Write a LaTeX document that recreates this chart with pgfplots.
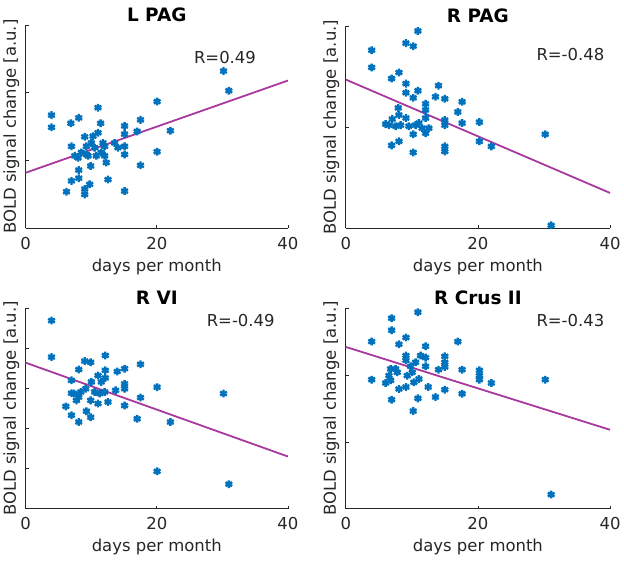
\documentclass[border=0pt]{standalone}
\usepackage{pgfplots}
\pgfplotsset{compat=1.18}
\usepackage{fontspec}
\setmainfont{DejaVu Sans}
\definecolor{mblue}{HTML}{0072BD}
\definecolor{mline}{HTML}{A8389F}
\definecolor{axgray}{HTML}{262626}
\pgfplotsset{
  panel/.style={
    scale only axis,
    anchor=south west,
    xmin=0, xmax=40,
    xtick={0,20,40},
    axis x line*=bottom, axis y line*=left,
    axis line style={axgray, line width=0.9pt, -},
    tick style={axgray, line width=0.6pt},
    tick align=inside,
    major tick length=3pt,
    yticklabels={},
    ticklabel style={font=\fontsize{16.5}{19}\selectfont, text=axgray},
    xticklabel style={yshift=-5pt},
    /pgf/number format/assume math mode=true,
    xlabel={days per month},
    ylabel={BOLD signal change [a.u.]},
    label style={font=\fontsize{16.5}{19}\selectfont, text=axgray},
    xlabel style={yshift=-3pt},
    ylabel style={yshift=-4pt},
    title style={font=\fontsize{18.5}{21}\selectfont\bfseries, yshift=-6pt},
    clip=false,
  },
  pts/.style={only marks, mark=asterisk, mark size=3.9pt, mblue, line width=2.4pt},
  fit/.style={no marks, mline, line width=1.8pt},
}
\newcommand{\rfont}{\fontsize{16.5}{19}\selectfont}
\begin{document}
\begin{tikzpicture}
\path (0pt,0pt) rectangle (624pt,-562pt);
% Panel 1: L PAG
\begin{axis}[panel, at={(24pt,-229pt)}, width=263pt, height=204pt, ymin=0, ymax=3, ytick={0,1,2,3}, title={L PAG}]
\addplot[pts] coordinates {
(3.95,1.67)(3.95,1.49)(6.23,0.54)(6.89,1.55)(6.99,1.21)(6.99,0.70)(8.10,1.63)(8.10,0.86)(8.10,0.74)
(9.01,1.35)(9.27,1.09)(9.01,0.58)(9.01,0.50)(9.77,0.65)(9.92,0.92)(10.03,1.26)(10.28,1.36)(11.04,1.78)
(11.04,1.41)(11.44,1.55)(10.78,1.07)(11.80,1.26)(12.05,1.07)(12.30,0.97)(12.56,0.72)(13.57,1.26)
(14.08,1.19)(15.09,1.51)(15.09,1.39)(15.09,1.21)(15.09,1.09)(15.09,0.55)(17.01,1.43)(17.52,1.60)
(17.52,0.93)(20.05,1.87)(20.05,1.13)(22.08,1.44)(30.18,2.32)(30.99,2.03)
(7.49,1.07)(8.51,1.12)(8.0,1.04)(9.52,1.07)(10.53,1.19)(11.54,1.12)(9.27,1.21)(12.05,1.21)
};
\addplot[fit] coordinates {(0,0.82)(40,2.18)};
\node[font=\rfont, text=axgray] at (rel axis cs:0.76,0.84) {R=0.49};
\end{axis}
% Panel 2: R PAG
\begin{axis}[panel, at={(345pt,-229pt)}, width=265pt, height=203pt, ymin=0, ymax=2, ytick={0,1,2}, title={R PAG}]
\addplot[pts] coordinates {
(3.92,1.76)(3.92,1.59)(6.94,1.48)(8.05,1.54)(9.11,1.83)(10.21,1.80)(10.92,1.95)(9.11,1.43)(9.11,1.34)
(10.21,1.29)(10.92,1.36)(7.95,1.19)(12.08,1.23)(12.08,1.17)(12.08,1.09)(14.04,1.41)(13.58,1.30)
(14.99,1.28)(16.96,1.15)(17.61,1.25)(14.99,1.07)(14.99,1.02)(17.61,1.04)(20.23,1.05)(20.23,0.86)
(22.04,0.81)(14.99,0.81)(14.99,0.76)(6.94,0.82)(8.05,0.86)(10.21,0.75)(10.21,0.93)(12.08,0.94)
(30.19,0.93)(31.09,0.03)
(6.04,1.03)(6.54,1.02)(7.04,1.08)(7.55,1.01)(8.30,1.02)(9.11,1.09)(9.56,1.01)(10.57,1.02)(11.07,1.04)
(11.57,0.99)(12.58,0.99)(8.05,1.12)
};
\addplot[fit] coordinates {(0,1.47)(40,0.35)};
\node[font=\rfont, text=axgray] at (rel axis cs:0.85,0.86) {R=-0.48};
\end{axis}
% Panel 3: R VI
\begin{axis}[panel, at={(24pt,-510pt)}, width=263pt, height=201pt, ymin=0, ymax=5, ytick={0,1,2,3,4,5}, title={R VI}]
\addplot[pts] coordinates {
(3.95,4.69)(3.95,3.78)(6.13,2.55)(6.99,3.20)(6.99,2.88)(6.99,2.33)(8.10,3.47)(8.10,2.16)(8.10,2.78)
(9.01,3.68)(9.27,2.43)(9.92,3.65)(9.92,2.70)(9.92,2.28)(10.03,3.16)(11.04,3.32)(11.04,2.62)(12.15,3.82)
(12.15,3.45)(12.15,3.26)(12.56,2.66)(13.97,3.42)(15.09,3.49)(15.09,3.11)(15.09,2.99)(15.09,2.57)
(17.01,2.24)(17.52,3.60)(17.52,2.77)(20.05,3.03)(20.05,0.93)(22.08,2.16)(30.18,2.87)(30.99,0.61)
(7.39,2.87)(8.41,2.91)(9.16,2.99)(10.53,2.91)(11.29,2.87)(11.54,3.16)(12.05,2.91)(13.72,2.95)(7.75,2.70)
};
\addplot[fit] coordinates {(0,3.64)(40,1.30)};
\node[font=\rfont, text=axgray] at (rel axis cs:0.82,0.94) {R=-0.49};
\end{axis}
% Panel 4: R Crus II
\begin{axis}[panel, at={(345pt,-510pt)}, width=265pt, height=201pt, ymin=0, ymax=3, ytick={0,1,2,3}, title={R Crus II}]
\addplot[pts] coordinates {
(3.92,2.50)(3.92,1.93)(6.04,1.88)(6.94,2.85)(6.94,2.67)(6.94,1.63)(8.05,2.46)(9.11,2.56)(10.92,2.94)
(9.11,2.29)(9.11,2.22)(8.05,1.79)(9.11,1.82)(10.21,1.46)(10.92,1.65)(12.08,2.43)(12.08,2.26)(12.08,2.13)
(12.48,1.82)(13.58,1.67)(14.04,2.08)(14.99,2.28)(14.99,2.19)(14.99,2.12)(14.99,1.78)(16.96,2.50)
(17.61,2.08)(17.61,1.72)(20.23,2.07)(20.23,1.99)(20.23,1.93)(22.04,1.88)(30.19,1.93)(31.09,0.21)
(6.79,2.09)(7.55,2.09)(6.54,1.99)(7.80,2.04)(9.31,1.99)(10.06,2.04)(10.57,2.19)(11.07,1.94)(11.32,2.29)
(10.31,1.89)(9.81,2.13)(6.79,1.92)
};
\addplot[fit] coordinates {(0,2.42)(40,1.18)};
\node[font=\rfont, text=axgray] at (rel axis cs:0.85,0.94) {R=-0.43};
\end{axis}
\end{tikzpicture}
\end{document}
